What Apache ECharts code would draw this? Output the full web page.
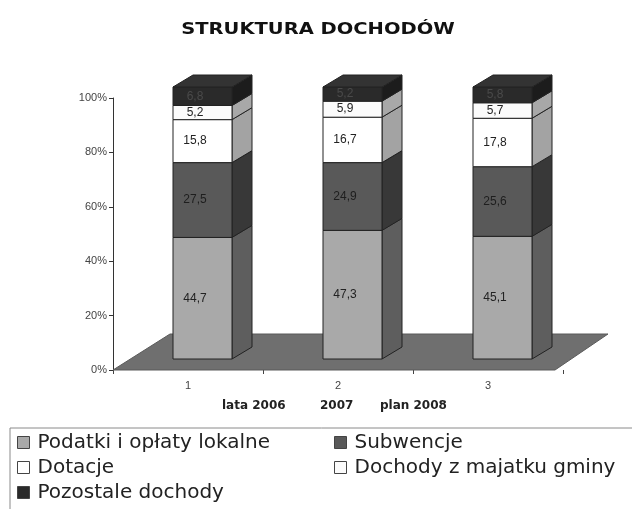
<!DOCTYPE html>
<html>
<head>
<meta charset="utf-8">
<script src="https://cdn.jsdelivr.net/npm/echarts@6/dist/echarts.min.js"></script>
<style>
  html, body { margin: 0; padding: 0; background: #fff; }
  #chart { width: 632px; height: 509px; }
</style>
</head>
<body>
<div id="chart"></div>
<script>
// dane
var categories = ['1', '2', '3'];
var yearLabels = ['lata 2006', '2007', 'plan 2008'];
var podatki = [44.7, 47.3, 45.1];
var subwencje = [27.5, 24.9, 25.6];
var dotacje = [15.8, 16.7, 17.8];
var majatek = [5.2, 5.9, 5.7];
var pozostale = [6.8, 5.2, 5.8];

var names = ['Podatki i opłaty lokalne', 'Subwencje', 'Dotacje', 'Dochody z majatku gminy', 'Pozostale dochody'];
var values = [podatki, subwencje, dotacje, majatek, pozostale];
var frontColors = ['#a9a9a9', '#595959', '#ffffff', '#fbfbfb', '#2a2a2a'];
var sideColors = ['#5e5e5e', '#383838', '#a3a3a3', '#a8a8a8', '#1c1c1c'];
var labelColors = ['#222', '#1e1e1e', '#222', '#222', '#4a4a4a'];

// geometria 3D (px)
var DX = 20, DY = -12, SHIFT = -11, FRONT_L = -15, FRONT_R = 44;

var myChart = echarts.init(document.getElementById('chart'));

function fmt(v) {
  return v.toFixed(1).replace('.', ',');
}

// podloga
function renderFloor(params, api) {
  var bw = api.size([1, 0])[0];
  var left = api.coord([0, 0])[0] - bw / 2;
  var right = api.coord([categories.length - 1, 0])[0] + bw / 2 - 8;
  var y = api.coord([0, 0])[1];
  return {
    type: 'polygon',
    shape: { points: [[left, y], [left + 57, y - 36], [right + 53, y - 36], [right, y]] },
    style: { fill: '#6f6f6f', stroke: '#5a5a5a', lineWidth: 1 }
  };
}

function makeRender(k) {
  return function (params, api) {
    var i = api.value(0), v = api.value(1), b = api.value(2);
    var c = api.coord([i, 0])[0];
    var yb = api.coord([i, b])[1] + SHIFT;
    var yt = api.coord([i, b + v])[1] + SHIFT;
    var x0 = c + FRONT_L, x1 = c + FRONT_R;
    var children = [
      {
        type: 'polygon',
        shape: { points: [[x1, yb], [x1 + DX, yb + DY], [x1 + DX, yt + DY], [x1, yt]] },
        style: { fill: sideColors[k], stroke: '#222', lineWidth: 1 }
      },
      {
        type: 'rect',
        shape: { x: x0, y: yt, width: x1 - x0, height: yb - yt },
        style: { fill: frontColors[k], stroke: '#222', lineWidth: 1 }
      }
    ];
    if (k === values.length - 1) {
      children.push({
        type: 'polygon',
        shape: { points: [[x0, yt], [x0 + DX, yt + DY], [x1 + DX, yt + DY], [x1, yt]] },
        style: { fill: '#333', stroke: '#222', lineWidth: 1 }
      });
    }
    children.push({
      type: 'text',
      style: {
        text: fmt(v),
        x: c + 7,
        y: (yb + yt) / 2,
        align: 'center',
        verticalAlign: 'middle',
        fill: labelColors[k],
        font: '12px "Liberation Sans", Arial, sans-serif'
      }
    });
    return { type: 'group', children: children };
  };
}

var series = [{
  type: 'custom',
  name: 'floor',
  silent: true,
  renderItem: renderFloor,
  data: [[0, 0]],
  z: 1
}];

var base = categories.map(function () { return 0; });
values.forEach(function (arr, k) {
  var data = arr.map(function (v, i) {
    var d = [i, v, base[i]];
    base[i] += v;
    return d;
  });
  series.push({
    type: 'custom',
    name: names[k],
    renderItem: makeRender(k),
    itemStyle: { color: frontColors[k], borderColor: '#333', borderWidth: 1 },
    encode: { x: 0, y: 1 },
    data: data,
    z: 2 + k
  });
});

var legendText = { fontSize: 20, color: '#222', fontFamily: '"DejaVu Sans", sans-serif', lineHeight: 25, padding: [0, 0, 0, 3] };
var yearFont = 'bold 12px "DejaVu Sans", sans-serif';

myChart.setOption({
  animation: false,
  grid: { left: 113, right: 69, top: 98, bottom: 139, containLabel: false },
  xAxis: {
    type: 'category',
    data: categories,
    axisLine: { show: false },
    axisTick: { show: true, length: 4, lineStyle: { color: '#444' } },
    axisLabel: { margin: 10, fontSize: 11, color: '#444', fontFamily: '"Liberation Sans", Arial, sans-serif' }
  },
  yAxis: {
    type: 'value',
    min: 0,
    max: 100,
    interval: 20,
    splitLine: { show: false },
    axisLine: { show: true, lineStyle: { color: '#333' } },
    axisTick: { show: true, length: 4, lineStyle: { color: '#333' } },
    axisLabel: { formatter: '{value}%', margin: 6, fontSize: 11, color: '#444', fontFamily: '"Liberation Sans", Arial, sans-serif' }
  },
  legend: [
    {
      data: [names[0], names[2], names[4]],
      orient: 'vertical',
      left: 17, top: 430,
      padding: 0,
      itemWidth: 12, itemHeight: 12, itemGap: 0,
      icon: 'rect',
      itemStyle: { borderColor: '#444', borderWidth: 1 },
      textStyle: legendText
    },
    {
      data: [names[1], names[3]],
      orient: 'vertical',
      left: 334, top: 430,
      padding: 0,
      itemWidth: 12, itemHeight: 12, itemGap: 0,
      icon: 'rect',
      itemStyle: { borderColor: '#444', borderWidth: 1 },
      textStyle: legendText
    }
  ],
  graphic: [
    {
      type: 'text',
      x: 318, y: 30,
      scaleX: 1.3,
      style: {
        text: 'STRUKTURA DOCHODÓW',
        align: 'center', verticalAlign: 'middle',
        font: 'bold 15px "DejaVu Sans", sans-serif', fill: '#111'
      }
    },
    {
      type: 'rect',
      shape: { x: 10, y: 428, width: 640, height: 100 },
      style: { fill: 'none', stroke: '#8a8a8a', lineWidth: 1 },
      silent: true
    },
    {
      type: 'text',
      left: 222, top: 400,
      style: { text: yearLabels[0], font: yearFont, fill: '#222' }
    },
    {
      type: 'text',
      left: 320, top: 400,
      style: { text: yearLabels[1], font: yearFont, fill: '#222' }
    },
    {
      type: 'text',
      left: 380, top: 400,
      style: { text: yearLabels[2], font: yearFont, fill: '#222' }
    }
  ],
  series: series
});
</script>
</body>
</html>
